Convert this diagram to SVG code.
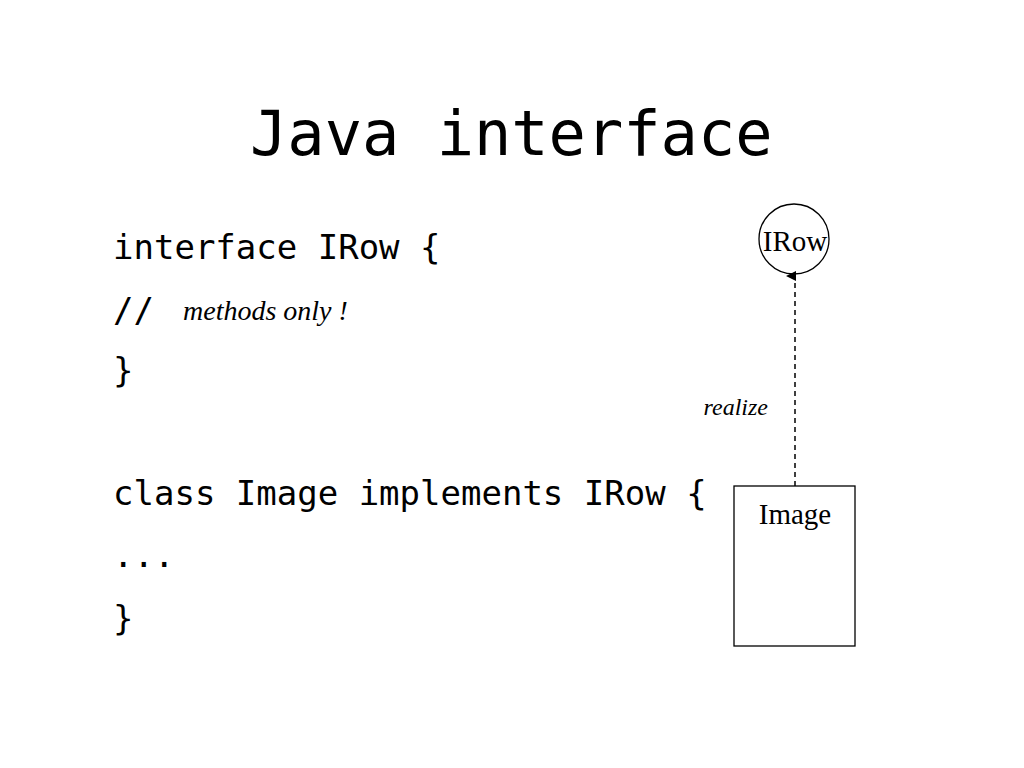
<svg xmlns="http://www.w3.org/2000/svg" width="1024" height="768" viewBox="0 0 1024 768">
<style>
.m{font-family:"DejaVu Sans Mono",monospace;fill:#000}
.c{font-size:34px}
.s{font-family:"Liberation Serif",serif;fill:#000}
</style>
<defs><marker id="a" markerWidth="10" markerHeight="10" refX="5" refY="9" orient="auto" markerUnits="userSpaceOnUse"><path d="M0,10 L5,0 L10,10 Z" fill="#000"/></marker></defs>
<rect width="1024" height="768" fill="#fff"/>
<text class="m" x="250" y="155" font-size="62">Java interface</text>
<text class="m c" x="113" y="259">interface IRow {</text>
<text class="m c" x="113" y="322">//</text>
<text class="s" x="183" y="320" font-size="28" font-style="italic">methods only !</text>
<text class="m c" x="113" y="382">}</text>
<text class="m c" x="113" y="505">class Image implements IRow {</text>
<text class="m c" x="113" y="567">...</text>
<text class="m c" x="113" y="630">}</text>
<g id="irow"><circle cx="794" cy="239" r="35" fill="none" stroke="#000" stroke-width="1.3"/>
<text class="s" x="795" y="251" font-size="29" text-anchor="middle">IRow</text></g>
<g id="image"><rect x="734" y="486" width="121" height="160" fill="none" stroke="#000" stroke-width="1.3"/>
<text class="s" x="795" y="524" font-size="29" text-anchor="middle">Image</text></g>
<g id="connectors"><line x1="795" y1="486" x2="795" y2="276" stroke="#000" stroke-width="1.5" stroke-dasharray="5,4" marker-end="url(#a)"/>
<text class="s" x="768" y="415" font-size="24" font-style="italic" text-anchor="end">realize</text></g>
</svg>
